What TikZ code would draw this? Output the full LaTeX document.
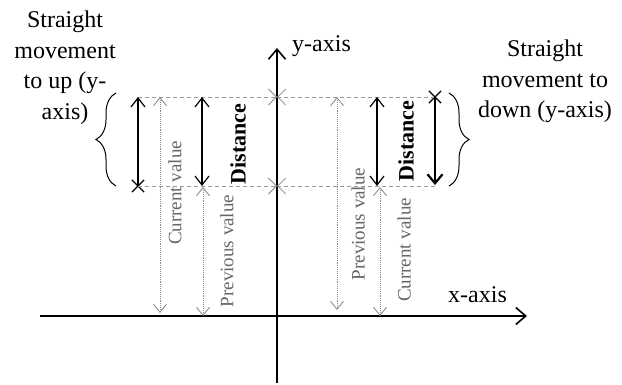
\documentclass[tikz,border=0pt]{standalone}
\usepackage{fontspec}
\setmainfont{Liberation Serif}
\usetikzlibrary{arrows.meta,decorations.pathreplacing,shapes.misc}

\tikzset{
  axis/.style={line width=1.6pt,-{Straight Barb[length=10pt,width=17pt]}},
  move/.style={line width=1.2pt},
  bigmove/.style={line width=2.2pt},
  value/.style={black!45,densely dotted,line width=0.9pt,{Straight Barb[length=8pt,width=13pt,line width=0.9pt]}-{Straight Barb[length=8pt,width=13pt,line width=0.9pt]}},
  level/.style={black!40,dash pattern=on 4pt off 3pt,line width=0.9pt,-{Straight Barb[length=8pt,width=16pt]}},
  valuelabel/.style={black!60,font=\fontsize{19}{19}\selectfont,rotate=90,inner sep=0pt},
  distlabel/.style={font=\fontsize{22}{22}\selectfont\bfseries,rotate=90,inner sep=0pt},
  axislabel/.style={font=\fontsize{24}{24}\selectfont,inner sep=0pt},
  movetext/.style={font=\fontsize{24}{30.5}\selectfont,align=center,inner sep=0pt},
  xmark/.style={cross out,draw,minimum size=11pt,inner sep=0pt,line width=1.2pt},
  bracket/.style={decorate,decoration={brace,amplitude=20pt},line width=1pt}
}

\begin{document}
\begin{tikzpicture}[x=1pt,y=-1pt]
  \useasboundingbox (0,0) rectangle (622,385);

  % axes
  \coordinate (xs) at (40,316);
  \coordinate (xe) at (527,316);
  \coordinate (ys) at (277,383);
  \coordinate (ye) at (277,48);
  \draw[axis] (xs) -- (xe);
  \draw[axis] (ys) -- (ye);
  \node[axislabel,anchor=base west] (xlabel) at (448,302) {x-axis};
  \node[axislabel,anchor=base west] (ylabel) at (292,52) {y-axis};

  % levels
  \coordinate (at) at (277,97);
  \coordinate (ab) at (277,186);
  \node[xmark] (upstart) at (138,186) {};
  \coordinate (upend) at (138,97);
  \node[xmark] (downstart) at (435,97) {};
  \coordinate (downend) at (435,185);
  \coordinate (rb) at (435,186);
  \draw[level] (upend) -- (at);
  \draw[level] (upstart.center) -- (ab);
  \draw[level] (downstart.center) -- (at);
  \draw[level] (rb) -- (ab);

  % straight movement to up
  \coordinate (Lcur1) at (160,97);
  \coordinate (Lcur0) at (160,313);
  \coordinate (Ldis1) at (202,97);
  \coordinate (Ldis0) at (202,186);
  \coordinate (Lpre1) at (203,187);
  \coordinate (Lpre0) at (203,316);
  \draw[move,-{Straight Barb[length=9pt,width=14pt]}] (upstart.center) -- (upend);
  \draw[value] (Lcur1) -- (Lcur0);
  \draw[move,{Straight Barb[length=9pt,width=14pt]}-{Straight Barb[length=9pt,width=14pt]}] (Ldis1) -- (Ldis0);
  \draw[value] (Lpre1) -- (Lpre0);
  \node[valuelabel] (Lcurlabel) at (175,193) {Current value};
  \node[distlabel] (Ldislabel) at (238,144) {Distance};
  \node[valuelabel] (Lprelabel) at (227,251) {Previous value};
  \coordinate (Lb0) at (116,186);
  \coordinate (Lb1) at (116,93);
  \draw[bracket] (Lb0) -- (Lb1);
  \node[movetext,anchor=north] (uptext) at (65,11) {Straight\\movement\\to up (y-\\axis)};

  % straight movement to down
  \coordinate (Rpre1) at (337,97);
  \coordinate (Rpre0) at (337,310);
  \coordinate (Rdis1) at (377,97);
  \coordinate (Rdis0) at (377,186);
  \coordinate (Rcur1) at (380,187);
  \coordinate (Rcur0) at (380,316);
  \draw[value] (Rpre1) -- (Rpre0);
  \draw[move,{Straight Barb[length=9pt,width=14pt]}-{Straight Barb[length=9pt,width=14pt]}] (Rdis1) -- (Rdis0);
  \draw[value] (Rcur1) -- (Rcur0);
  \draw[bigmove,-{Straight Barb[length=9pt,width=15pt]}] (downstart.center) -- (downend);
  \node[valuelabel] (Rprelabel) at (358,224) {Previous value};
  \node[distlabel] (Rdislabel) at (406,141) {Distance};
  \node[valuelabel] (Rcurlabel) at (404,250) {Current value};
  \coordinate (Rb0) at (449,93);
  \coordinate (Rb1) at (449,186);
  \draw[bracket] (Rb0) -- (Rb1);
  \node[movetext,anchor=north] (downtext) at (545,40) {Straight\\movement to\\down (y-axis)};
\end{tikzpicture}
\end{document}
